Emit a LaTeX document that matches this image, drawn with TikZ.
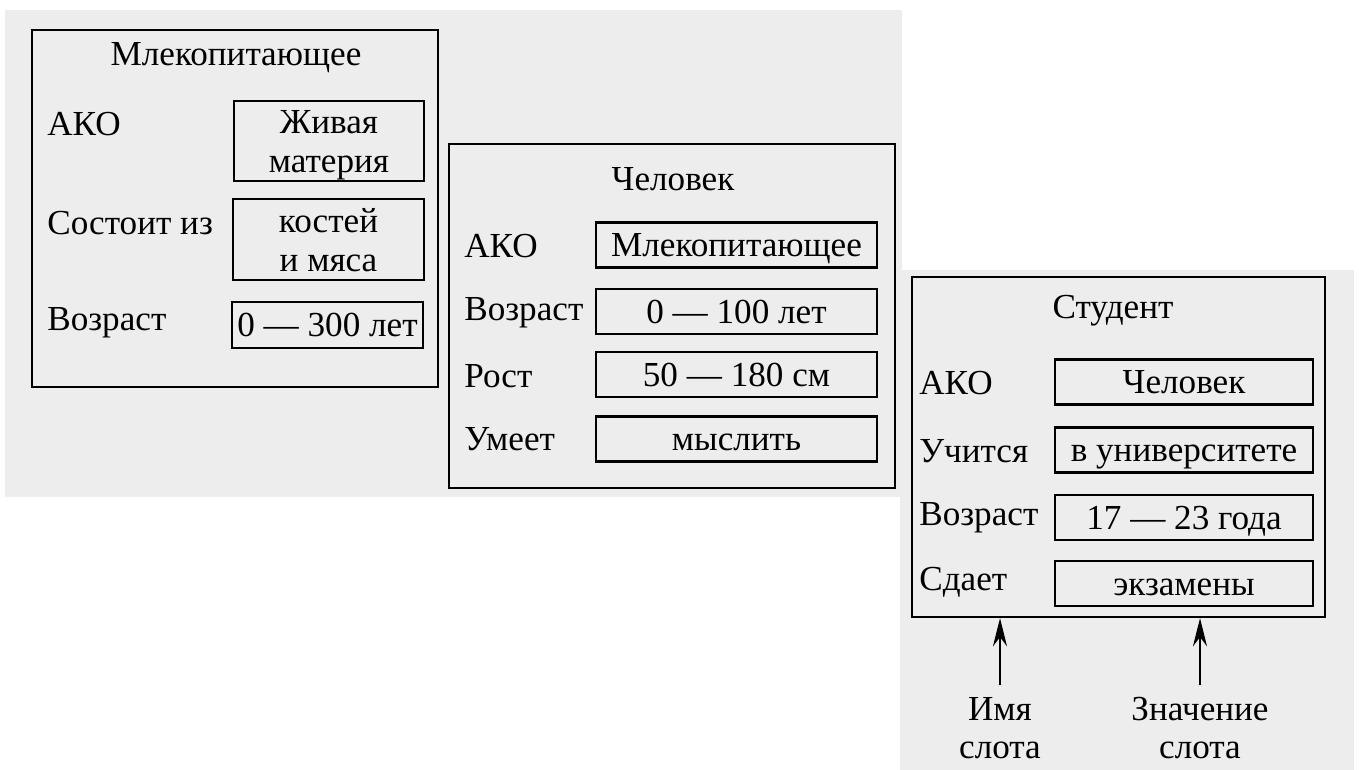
\documentclass[tikz,border=0pt]{standalone}
\usepackage{fontspec}
\setmainfont{Liberation Serif}
\usetikzlibrary{arrows.meta}

\definecolor{scan}{RGB}{237,237,237}

\begin{document}
\begin{tikzpicture}[
            x=0.02cm, y=-0.02cm,
            >={Stealth[length=16pt,width=8pt]},
            font=\fontsize{20}{22}\selectfont,
            frame/.style={draw, line width=1.4pt, inner sep=0pt},
            valbox/.style={draw, line width=1.4pt, inner sep=0pt,
                            minimum height=0.9cm, align=center},
            oneline/.style={text height=13.2pt, text depth=0pt},
            twoline/.style={text height=36pt, text depth=0pt},
            slotname/.style={anchor=west, inner sep=0pt}
        ]

            \useasboundingbox (0,0) rectangle (1359,770);
            \fill[scan] (5,10) rectangle (902,497);
            \fill[scan] (900,270) rectangle (1354,770);

            % frame: Mlekopitayushchee
            \node[frame, minimum width=8.12cm, minimum height=7.14cm] (mam) at (235,208.5) {};
            \node (mamt) at (236,58) {Млекопитающее};
            \node[slotname] (mam1) at (47,124) {АКО};
            \node[slotname] (mam2) at (47,223) {Состоит из};
            \node[slotname] (mam3) at (47,323) {Возраст};
            \node[valbox, twoline, minimum width=3.8cm, minimum height=1.6cm] (mamv1) at (329,141) {Живая\\материя};
            \node[valbox, twoline, minimum width=3.82cm, minimum height=1.62cm] (mamv2) at (328.5,239.5) {костей\\и мяса};
            \node[valbox, oneline, minimum width=3.82cm, minimum height=0.92cm] (mamv3) at (327.5,325) {0 — 300 лет};

            % frame: Chelovek
            \node[frame, minimum width=8.92cm, minimum height=6.88cm] (man) at (672,316) {};
            \node (mant) at (673,179) {Человек};
            \node[slotname] (man1) at (464,246) {АКО};
            \node[slotname] (man2) at (464,313) {Возраст};
            \node[slotname] (man3) at (464,376) {Рост};
            \node[slotname] (man4) at (464,439) {Умеет};
            \node[valbox, oneline, minimum width=5.62cm] (manv1) at (736.5,245) {Млекопитающее};
            \node[valbox, oneline, minimum width=5.62cm] (manv2) at (736.5,311.5) {0 — 100 лет};
            \node[valbox, oneline, minimum width=5.62cm] (manv3) at (736.5,374.5) {50 — 180 см};
            \node[valbox, oneline, minimum width=5.62cm] (manv4) at (736.5,439) {мыслить};

            % frame: Student
            \node[frame, minimum width=8.26cm, minimum height=6.8cm] (st) at (1118.5,447) {};
            \node (stt) at (1113,311) {Студент};
            \node[slotname] (st1) at (919,383) {АКО};
            \node[slotname] (st2) at (919,451) {Учится};
            \node[slotname] (st3) at (919,518) {Возраст};
            \node[slotname] (st4) at (919,582) {Сдает};
            \node[valbox, oneline, minimum width=5.16cm] (stv1) at (1184,382) {Человек};
            \node[valbox, oneline, minimum width=5.16cm] (stv2) at (1184,450) {в университете};
            \node[valbox, oneline, minimum width=5.16cm] (stv3) at (1184,517.5) {17 — 23 года};
            \node[valbox, oneline, minimum width=5.16cm] (stv4) at (1184,583.5) {экзамены};

            % legend
            \node[align=center, inner sep=2pt] (slname) at (1000,728) {Имя\\слота};
            \node[align=center, inner sep=2pt] (slval) at (1200,728) {Значение\\слота};
            \draw[->, line width=1.3pt] (slname.north) ++(0,-8) -- (slname.north |- st.south);
            \draw[->, line width=1.3pt] (slval.north) ++(0,-8) -- (slval.north |- st.south);

        \end{tikzpicture}
\end{document}
